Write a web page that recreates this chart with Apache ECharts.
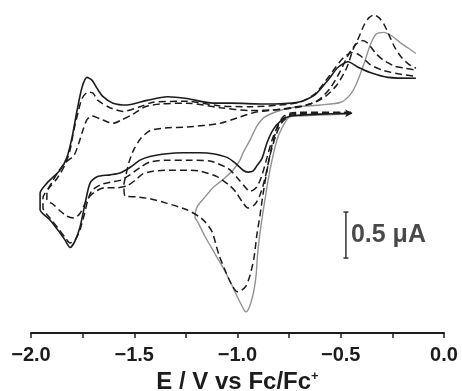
<!DOCTYPE html>
<html>
<head>
<meta charset="utf-8">
<script src="https://cdn.jsdelivr.net/npm/echarts@6/dist/echarts.min.js"></script>
<style>
  html, body {margin: 0; padding: 0; background: #fff;}
  #chart {width: 462px; height: 391px;}
</style>
</head>
<body>
<div id="chart"></div>
<script>
// potential (V vs Fc/Fc+) and current (uA, arbitrary offset)
const xTicks = [-2.0, -1.5, -1.0, -0.5, 0.0];
const xTitle = 'E / V vs Fc/Fc';

// solid black: full scan -0.45 -> -1.95 -> -0.15
const solidScan = [
  [-0.450, 2.39], [-0.600, 2.38], [-0.697, 2.37], [-0.746, 2.36], [-0.794, 2.30], [-0.828, 2.21],
  [-0.857, 2.07], [-0.881, 1.90], [-0.906, 1.82], [-0.925, 1.76], [-0.949, 1.75], [-0.973, 1.77],
  [-1.012, 1.85], [-1.051, 1.91], [-1.119, 1.95], [-1.182, 1.96], [-1.264, 1.96], [-1.341, 1.95],
  [-1.424, 1.92], [-1.472, 1.88], [-1.521, 1.80], [-1.569, 1.74], [-1.617, 1.72], [-1.680, 1.70],
  [-1.714, 1.63], [-1.738, 1.41], [-1.763, 1.15], [-1.787, 1.00], [-1.811, 0.93], [-1.835, 1.01],
  [-1.860, 1.09], [-1.908, 1.23], [-1.956, 1.34], [-1.956, 1.52], [-1.923, 1.63], [-1.860, 1.77],
  [-1.826, 1.91], [-1.801, 2.13], [-1.777, 2.42], [-1.753, 2.67], [-1.729, 2.78], [-1.705, 2.75],
  [-1.680, 2.66], [-1.651, 2.57], [-1.603, 2.50], [-1.535, 2.48], [-1.438, 2.53], [-1.341, 2.57],
  [-1.245, 2.55], [-1.119, 2.50], [-1.031, 2.50], [-0.872, 2.49], [-0.707, 2.51], [-0.625, 2.59],
  [-0.562, 2.75], [-0.513, 2.89], [-0.465, 2.95], [-0.416, 2.89], [-0.354, 2.83], [-0.271, 2.78],
  [-0.136, 2.77]
];

// grey: first scan, reversed at -1.2 V
const grayScan = [
  [-0.450, 2.38], [-0.600, 2.37], [-0.697, 2.36], [-0.746, 2.35], [-0.770, 2.29], [-0.809, 2.10],
  [-0.843, 1.77], [-0.867, 1.45], [-0.886, 1.17], [-0.901, 0.90], [-0.910, 0.63], [-0.920, 0.47],
  [-0.935, 0.33], [-0.949, 0.25], [-0.959, 0.23], [-0.973, 0.27], [-0.998, 0.38], [-1.027, 0.52],
  [-1.070, 0.71], [-1.119, 0.90], [-1.157, 1.05], [-1.191, 1.20], [-1.206, 1.26], [-1.196, 1.37],
  [-1.157, 1.48], [-1.119, 1.58], [-1.070, 1.67], [-1.022, 1.77], [-0.988, 1.88], [-0.973, 1.96],
  [-0.939, 2.10], [-0.906, 2.25], [-0.867, 2.35], [-0.794, 2.42], [-0.707, 2.46], [-0.600, 2.48],
  [-0.499, 2.51], [-0.455, 2.59], [-0.426, 2.70], [-0.387, 2.93], [-0.358, 3.13], [-0.329, 3.25],
  [-0.291, 3.27], [-0.252, 3.23], [-0.213, 3.16], [-0.174, 3.10], [-0.136, 3.04]
];

// dashed, outer full scan
const dashedA = [
  [-0.450, 2.39], [-0.697, 2.39], [-0.755, 2.37], [-0.794, 2.29], [-0.828, 2.13], [-0.857, 1.91],
  [-0.881, 1.72], [-0.906, 1.59], [-0.939, 1.54], [-0.968, 1.60], [-0.998, 1.68], [-1.046, 1.79],
  [-1.133, 1.87], [-1.230, 1.88], [-1.341, 1.88], [-1.424, 1.86], [-1.472, 1.80], [-1.521, 1.72],
  [-1.569, 1.66], [-1.617, 1.64], [-1.666, 1.61], [-1.705, 1.55], [-1.724, 1.45], [-1.743, 1.28],
  [-1.763, 1.12], [-1.787, 1.01], [-1.811, 0.98], [-1.835, 1.04], [-1.869, 1.14], [-1.908, 1.25],
  [-1.942, 1.36], [-1.942, 1.47], [-1.908, 1.59], [-1.874, 1.68], [-1.835, 1.83], [-1.811, 1.99],
  [-1.792, 2.21], [-1.772, 2.40], [-1.753, 2.55], [-1.724, 2.62], [-1.700, 2.61], [-1.676, 2.53],
  [-1.617, 2.45], [-1.554, 2.41], [-1.472, 2.46], [-1.409, 2.51], [-1.245, 2.52], [-1.085, 2.47],
  [-0.939, 2.46], [-0.794, 2.48], [-0.697, 2.51], [-0.625, 2.60], [-0.571, 2.75], [-0.528, 2.88],
  [-0.489, 2.99], [-0.446, 3.05], [-0.407, 3.02], [-0.358, 2.92], [-0.300, 2.86], [-0.223, 2.82],
  [-0.136, 2.79]
];

// dashed, inner full scan
const dashedB = [
  [-0.450, 2.39], [-0.697, 2.38], [-0.746, 2.36], [-0.785, 2.29], [-0.814, 2.15], [-0.843, 1.93],
  [-0.867, 1.68], [-0.891, 1.50], [-0.915, 1.40], [-0.949, 1.36], [-0.978, 1.43], [-1.007, 1.53],
  [-1.036, 1.60], [-1.099, 1.70], [-1.182, 1.76], [-1.245, 1.77], [-1.327, 1.77], [-1.409, 1.76],
  [-1.458, 1.73], [-1.496, 1.66], [-1.535, 1.60], [-1.584, 1.58], [-1.642, 1.58], [-1.680, 1.55],
  [-1.714, 1.49], [-1.738, 1.41], [-1.763, 1.30], [-1.792, 1.25], [-1.826, 1.27], [-1.860, 1.33],
  [-1.893, 1.40], [-1.923, 1.45], [-1.923, 1.53], [-1.898, 1.64], [-1.869, 1.75], [-1.831, 1.86],
  [-1.792, 1.93], [-1.768, 2.07], [-1.748, 2.21], [-1.729, 2.32], [-1.705, 2.36], [-1.666, 2.33],
  [-1.603, 2.28], [-1.559, 2.32], [-1.506, 2.38], [-1.448, 2.46], [-1.375, 2.49], [-1.245, 2.50],
  [-1.085, 2.45], [-0.939, 2.42], [-0.794, 2.43], [-0.697, 2.46], [-0.610, 2.53], [-0.552, 2.66],
  [-0.504, 2.84], [-0.465, 3.02], [-0.431, 3.13], [-0.397, 3.18], [-0.368, 3.15], [-0.334, 3.05],
  [-0.295, 2.97], [-0.237, 2.90], [-0.189, 2.88], [-0.136, 2.86]
];

// dashed, scan reversed at -1.55 V
const dashedV = [
  [-0.450, 2.40], [-0.697, 2.40], [-0.746, 2.39], [-0.780, 2.35], [-0.804, 2.26], [-0.833, 2.04],
  [-0.857, 1.77], [-0.877, 1.50], [-0.891, 1.28], [-0.906, 1.07], [-0.920, 0.82], [-0.939, 0.63],
  [-0.959, 0.51], [-0.983, 0.46], [-1.002, 0.45], [-1.027, 0.52], [-1.056, 0.66], [-1.090, 0.85],
  [-1.123, 1.10], [-1.157, 1.21], [-1.182, 1.26], [-1.245, 1.34], [-1.341, 1.41], [-1.424, 1.46],
  [-1.487, 1.48], [-1.545, 1.49], [-1.550, 1.61], [-1.540, 1.72], [-1.525, 1.86], [-1.501, 2.00],
  [-1.467, 2.12], [-1.424, 2.20], [-1.351, 2.23], [-1.245, 2.24], [-1.085, 2.28], [-0.988, 2.35],
  [-0.915, 2.40], [-0.843, 2.42], [-0.746, 2.45], [-0.649, 2.49], [-0.576, 2.57], [-0.518, 2.70],
  [-0.470, 2.89], [-0.441, 3.08], [-0.412, 3.22], [-0.387, 3.35], [-0.363, 3.43], [-0.339, 3.46],
  [-0.315, 3.43], [-0.291, 3.36], [-0.266, 3.24], [-0.237, 3.10], [-0.203, 2.99], [-0.169, 2.92],
  [-0.136, 2.88]
];

// 0.5 uA scale bar
const scaleBar = [[-0.475, 1.315], [-0.475, 0.815]];
const scaleLabel = '0.5 \u03bcA';

const font = 'Liberation Sans, Arial, sans-serif';
const ink = '#1c1c1c';

const chart = echarts.init(document.getElementById('chart'));

const dashedSeries = (data) => ({
  type: 'line',
  data: data,
  symbol: 'none',
  smooth: 0.25,
  lineStyle: {color: ink, width: 1.5, type: [7, 4]},
  z: 3
});

chart.setOption({
  animation: false,
  grid: {left: 31, right: 18, top: 2, bottom: 58, containLabel: false, outerBoundsMode: 'none'},
  xAxis: {
    type: 'value',
    min: -2.0,
    max: 0.0,
    interval: 0.5,
    name: '{t|' + xTitle + '}{s|+}',
    nameLocation: 'middle',
    nameGap: 37,
    nameTextStyle: {
      rich: {
        t: {fontFamily: font, fontWeight: 'bold', fontSize: 24, color: ink},
        s: {fontFamily: font, fontWeight: 'bold', fontSize: 13, color: ink, verticalAlign: 'top', padding: [0, 0, 11, 0]}
      }
    },
    axisLine: {onZero: false, lineStyle: {color: ink, width: 2}},
    axisTick: {show: true, length: 5, lineStyle: {color: ink, width: 1.5}},
    minorTick: {show: true, splitNumber: 2, length: 5, lineStyle: {color: ink, width: 1.5}},
    splitLine: {show: false},
    axisLabel: {
      margin: 12,
      fontFamily: font,
      fontWeight: 'bold',
      fontSize: 20,
      color: ink,
      customValues: xTicks,
      formatter: (v) => v.toFixed(1).replace('-', '\u2212')
    }
  },
  yAxis: {
    type: 'value',
    min: 0,
    max: 3.6,
    show: false
  },
  series: [
    {
      type: 'line',
      data: grayScan,
      symbol: 'none',
      smooth: 0.25,
      lineStyle: {color: '#929292', width: 1.4},
      z: 2
    },
    dashedSeries(dashedA),
    dashedSeries(dashedB),
    dashedSeries(dashedV),
    {
      type: 'line',
      data: [{value: [-0.445, 2.39], symbol: 'arrow', symbolSize: [6, 7], symbolRotate: -90}].concat(solidScan),
      symbol: 'none',
      smooth: 0.25,
      itemStyle: {color: ink},
      lineStyle: {color: ink, width: 1.6},
      z: 4
    },
    {
      type: 'line',
      data: scaleBar,
      symbol: 'rect',
      symbolSize: [5, 1.5],
      itemStyle: {color: '#333'},
      lineStyle: {color: '#333', width: 1.5},
      z: 4
    },
    {
      type: 'scatter',
      data: [[scaleBar[0][0], (scaleBar[0][1] + scaleBar[1][1]) / 2]],
      symbolSize: 0,
      label: {
        show: true,
        position: 'right',
        distance: 5,
        formatter: scaleLabel,
        fontFamily: font,
        fontWeight: 'bold',
        fontSize: 25,
        color: ink
      }
    }
  ]
});
</script>
</body>
</html>
